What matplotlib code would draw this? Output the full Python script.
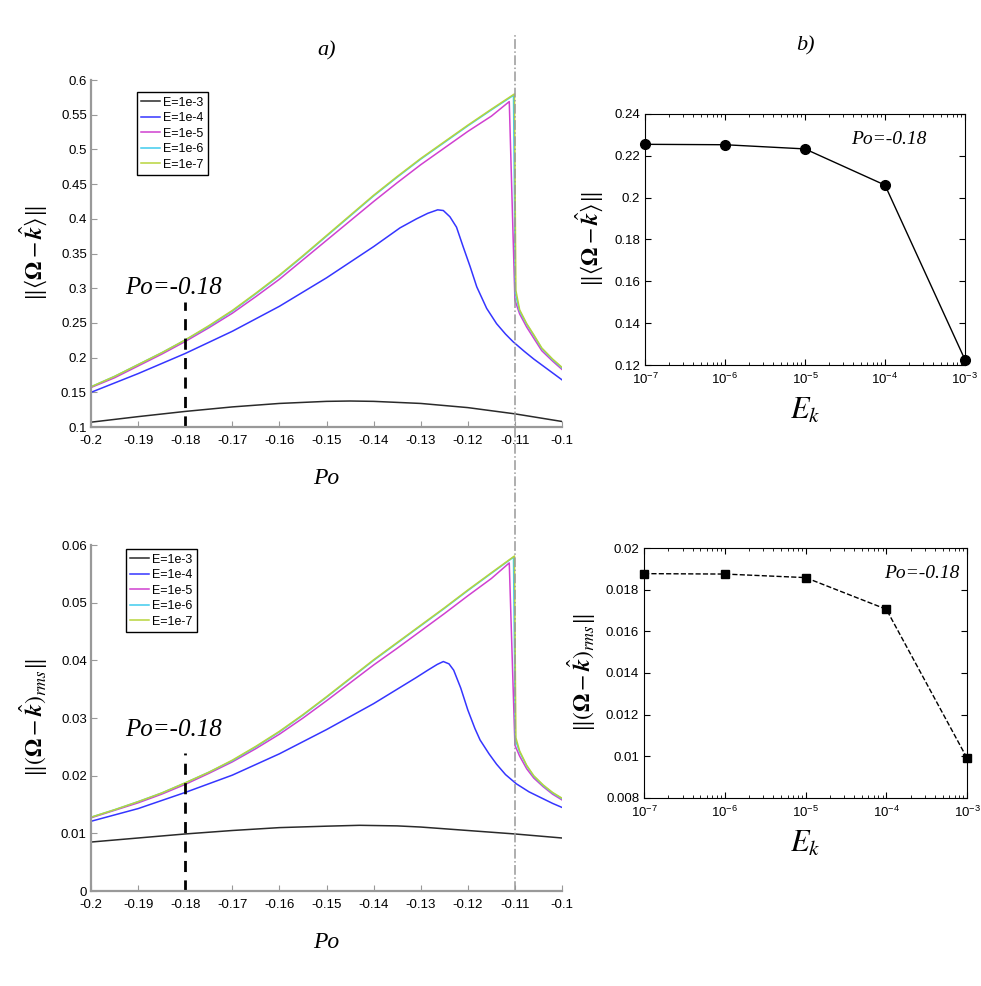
import matplotlib

matplotlib.use("Agg")
import matplotlib.pyplot as plt  # noqa: E402
import numpy as np  # noqa: E402
from matplotlib.lines import Line2D  # noqa: E402

plt.rcParams["font.family"] = ["Liberation Sans", "DejaVu Sans"]
plt.rcParams["mathtext.fontset"] = "stix"

# ---- data: panel a) top, mean deviation vs Po ----
po_e3 = [-0.2, -0.19, -0.18, -0.17, -0.16, -0.15, -0.145, -0.14, -0.13, -0.12, -0.11, -0.1]
top_e3 = [0.107, 0.115, 0.1225, 0.129, 0.134, 0.137, 0.1375, 0.137, 0.134, 0.128, 0.119, 0.108]

po_e4 = [-0.2, -0.19, -0.18, -0.17, -0.16, -0.15, -0.14, -0.1344, -0.1309, -0.1285, -0.1264,
         -0.1252, -0.1238, -0.1224, -0.121, -0.1195, -0.1181, -0.116, -0.1139, -0.112, -0.1104,
         -0.108, -0.106, -0.104, -0.102, -0.1]
top_e4 = [0.150, 0.177, 0.206, 0.238, 0.274, 0.315, 0.360, 0.387, 0.400, 0.408, 0.413,
          0.412, 0.403, 0.388, 0.360, 0.331, 0.302, 0.271, 0.249, 0.234, 0.223,
          0.209, 0.198, 0.188, 0.178, 0.168]

po_e5 = [-0.2, -0.195, -0.19, -0.185, -0.18, -0.175, -0.17, -0.165, -0.16, -0.155, -0.15,
         -0.145, -0.14, -0.135, -0.13, -0.125, -0.12, -0.115, -0.1112, -0.11, -0.109,
         -0.1075, -0.106, -0.1043, -0.102, -0.1]
top_e5 = [0.157, 0.171, 0.188, 0.205, 0.2233, 0.243, 0.264, 0.288, 0.313, 0.341, 0.369,
          0.397, 0.425, 0.452, 0.478, 0.502, 0.526, 0.548, 0.569, 0.283, 0.263,
          0.244, 0.228, 0.210, 0.195, 0.183]

po_e6 = [-0.2, -0.195, -0.19, -0.185, -0.18, -0.175, -0.17, -0.165, -0.16, -0.155, -0.15,
         -0.145, -0.14, -0.135, -0.13, -0.125, -0.12, -0.115, -0.1103, -0.1099, -0.109,
         -0.1075, -0.106, -0.1043, -0.102, -0.1]
top_e6 = [0.158, 0.173, 0.190, 0.207, 0.2253, 0.245, 0.267, 0.292, 0.318, 0.346, 0.375,
          0.404, 0.433, 0.460, 0.486, 0.510, 0.534, 0.557, 0.578, 0.292, 0.267,
          0.248, 0.232, 0.213, 0.197, 0.185]

po_e7 = [-0.2, -0.195, -0.19, -0.185, -0.18, -0.175, -0.17, -0.165, -0.16, -0.155, -0.15,
         -0.145, -0.14, -0.135, -0.13, -0.125, -0.12, -0.115, -0.1101, -0.1098, -0.109,
         -0.1075, -0.106, -0.1043, -0.102, -0.1]
top_e7 = [0.158, 0.173, 0.190, 0.207, 0.2255, 0.246, 0.268, 0.293, 0.319, 0.347, 0.376,
          0.405, 0.434, 0.461, 0.487, 0.511, 0.535, 0.558, 0.580, 0.297, 0.269,
          0.249, 0.233, 0.214, 0.198, 0.186]

# ---- data: panel a) bottom, rms deviation vs Po ----
bot_po_e3 = [-0.2, -0.19, -0.18, -0.17, -0.16, -0.15, -0.143, -0.135, -0.13, -0.12, -0.11, -0.1]
bot_e3 = [0.0085, 0.0092, 0.0099, 0.0105, 0.0110, 0.01125, 0.0114, 0.0113, 0.0111, 0.0105, 0.0099, 0.0092]

bot_po_e4 = [-0.2, -0.19, -0.18, -0.17, -0.16, -0.15, -0.14, -0.135, -0.131, -0.1285, -0.1265,
             -0.1252, -0.124, -0.123, -0.1215, -0.12, -0.1185, -0.1174, -0.1155, -0.1139, -0.112,
             -0.1097, -0.107, -0.104, -0.102, -0.1]
bot_e4 = [0.0121, 0.0143, 0.0171, 0.0201, 0.0238, 0.0280, 0.0325, 0.0350, 0.0370, 0.0383, 0.0393,
          0.0398, 0.0394, 0.0383, 0.0352, 0.0314, 0.0282, 0.0262, 0.0238, 0.0220, 0.0202,
          0.0186, 0.0172, 0.0160, 0.0152, 0.0145]

bot_po_e5 = [-0.2, -0.195, -0.19, -0.185, -0.18, -0.175, -0.17, -0.165, -0.16, -0.155, -0.15,
             -0.145, -0.14, -0.135, -0.13, -0.125, -0.12, -0.115, -0.1112, -0.11, -0.109,
             -0.1075, -0.106, -0.104, -0.102, -0.1]
bot_e5 = [0.0127, 0.0140, 0.0153, 0.0168, 0.0185, 0.0204, 0.0224, 0.0247, 0.0272, 0.0300, 0.0330,
          0.0361, 0.0392, 0.0421, 0.0451, 0.0481, 0.0512, 0.0542, 0.0569, 0.0253, 0.0234,
          0.0212, 0.0196, 0.0181, 0.0168, 0.0158]

bot_po_e6 = [-0.2, -0.195, -0.19, -0.185, -0.18, -0.175, -0.17, -0.165, -0.16, -0.155, -0.15,
             -0.145, -0.14, -0.135, -0.13, -0.125, -0.12, -0.115, -0.1103, -0.1099, -0.109,
             -0.1075, -0.106, -0.104, -0.102, -0.1]
bot_e6 = [0.0128, 0.0141, 0.0155, 0.0170, 0.01875, 0.0206, 0.0226, 0.0250, 0.0276, 0.0305, 0.0336,
          0.0368, 0.0400, 0.0430, 0.0460, 0.0490, 0.0521, 0.0551, 0.0579, 0.0262, 0.0241,
          0.0217, 0.0199, 0.0183, 0.0170, 0.0160]

bot_po_e7 = [-0.2, -0.195, -0.19, -0.185, -0.18, -0.175, -0.17, -0.165, -0.16, -0.155, -0.15,
             -0.145, -0.14, -0.135, -0.13, -0.125, -0.12, -0.115, -0.1101, -0.1098, -0.109,
             -0.1075, -0.106, -0.104, -0.102, -0.1]
bot_e7 = [0.0128, 0.0141, 0.0155, 0.0170, 0.01877, 0.0206, 0.0227, 0.0251, 0.0277, 0.0306, 0.0337,
          0.0369, 0.0401, 0.0431, 0.0461, 0.0491, 0.0522, 0.0552, 0.0581, 0.0266, 0.0243,
          0.0218, 0.0200, 0.0184, 0.0171, 0.0161]

# ---- data: panel b), values at Po=-0.18 vs Ekman number ----
ekman = [1e-7, 1e-6, 1e-5, 1e-4, 1e-3]
mean_at_po = [0.2255, 0.2253, 0.2233, 0.206, 0.1225]
rms_at_po = [0.01877, 0.01875, 0.01858, 0.01706, 0.00991]

labels = ["E=1e-3", "E=1e-4", "E=1e-5", "E=1e-6", "E=1e-7"]
colors = ["#2a2a2a", "#3535ff", "#d040d0", "#40ccee", "#b8d43c"]

PO_MARK = -0.18
PO_CRIT = -0.11
SPINE_GREY = "#999999"

fig = plt.figure(figsize=(9.81, 9.86), dpi=100)
ax_a1 = fig.add_axes([0.0928, 0.5669, 0.4801, 0.3519])
ax_a2 = fig.add_axes([0.0928, 0.0963, 0.4801, 0.3509])
ax_b1 = fig.add_axes([0.6575, 0.6298, 0.3262, 0.2546])
ax_b2 = fig.add_axes([0.6565, 0.1907, 0.3293, 0.2535])


def style_left(ax):
    for side in ("top", "right"):
        ax.spines[side].set_visible(False)
    for side in ("left", "bottom"):
        ax.spines[side].set_color(SPINE_GREY)
        ax.spines[side].set_linewidth(1.6)
    ax.tick_params(direction="in", length=4, color=SPINE_GREY, labelsize=9.5, pad=3)
    ax.tick_params(axis="x", pad=6)
    ax.set_xlim(-0.2, -0.1)
    ax.set_xticks(np.arange(-0.2, -0.0999, 0.01))
    ax.set_xticklabels(["-0.2", "-0.19", "-0.18", "-0.17", "-0.16", "-0.15",
                        "-0.14", "-0.13", "-0.12", "-0.11", "-0.1"])


def style_right(ax):
    ax.set_xscale("log")
    ax.set_xlim(1e-7, 1e-3)
    for side in ax.spines:
        ax.spines[side].set_linewidth(0.8)
    ax.tick_params(which="both", direction="in", top=True, right=True, labelsize=9.5)
    ax.tick_params(which="major", length=4)
    ax.tick_params(which="minor", length=2)
    ax.tick_params(axis="x", pad=5)


top_sets = [(po_e3, top_e3), (po_e4, top_e4), (po_e5, top_e5), (po_e6, top_e6), (po_e7, top_e7)]
bot_sets = [(bot_po_e3, bot_e3), (bot_po_e4, bot_e4), (bot_po_e5, bot_e5),
            (bot_po_e6, bot_e6), (bot_po_e7, bot_e7)]

for ax, sets in ((ax_a1, top_sets), (ax_a2, bot_sets)):
    style_left(ax)
    for (xs, ys), lab, col in zip(sets, labels, colors):
        ax.plot(xs, ys, color=col, linewidth=1.1, label=lab)

legend_kw = dict(loc="upper left", fontsize=9, frameon=True, fancybox=False, edgecolor="black",
                 framealpha=1, handlelength=1.5, labelspacing=0.28, borderpad=0.35,
                 handletextpad=0.25, borderaxespad=0)

# top-left
ax_a1.set_ylim(0.1, 0.6)
ax_a1.set_yticks(np.arange(0.1, 0.6001, 0.05))
ax_a1.set_yticklabels(["0.1", "0.15", "0.2", "0.25", "0.3", "0.35", "0.4",
                       "0.45", "0.5", "0.55", "0.6"])
ax_a1.plot([PO_MARK, PO_MARK], [0.1, 0.28], color="black", linestyle=(0, (4, 3)), linewidth=2)
ax_a1.text(-0.1824, 0.292, "Po=-0.18", ha="center", va="baseline", fontsize=18,
           family="Liberation Serif", style="italic")
ax_a1.set_ylabel(r"$\|\langle \mathbf{\Omega} - \hat{\boldsymbol{k}} \rangle\|$", fontsize=17, labelpad=8)
ax_a1.set_xlabel("Po", fontsize=17, family="Liberation Serif", style="italic", labelpad=15)
ax_a1.legend(bbox_to_anchor=(0.097, 0.965), **legend_kw)
ax_a1.set_title("a)", fontsize=16, family="Liberation Serif", style="italic", pad=18)

# bottom-left
ax_a2.set_ylim(0, 0.06)
ax_a2.set_yticks(np.arange(0, 0.0601, 0.01))
ax_a2.set_yticklabels(["0", "0.01", "0.02", "0.03", "0.04", "0.05", "0.06"])
ax_a2.plot([PO_MARK, PO_MARK], [0, 0.0239], color="black", linestyle=(0, (4, 3)), linewidth=2)
ax_a2.text(-0.1825, 0.0269, "Po=-0.18", ha="center", va="baseline", fontsize=18,
           family="Liberation Serif", style="italic")
ax_a2.set_ylabel(r"$\|(\mathbf{\Omega} - \hat{\boldsymbol{k}})_{rms}\|$", fontsize=17, labelpad=8)
ax_a2.set_xlabel("Po", fontsize=17, family="Liberation Serif", style="italic", labelpad=15)
ax_a2.legend(bbox_to_anchor=(0.074, 0.988), **legend_kw)

# critical Po line spanning both left panels
pos1 = ax_a1.get_position()
pos2 = ax_a2.get_position()
xmin, xmax = ax_a1.get_xlim()
x_fig = pos1.x0 + (PO_CRIT - xmin) / (xmax - xmin) * pos1.width
fig.add_artist(Line2D([x_fig, x_fig], [pos2.y0, 1 - 35 / 986], transform=fig.transFigure,
                      color=SPINE_GREY, linestyle="-.", linewidth=1.1, zorder=5))

# top-right
style_right(ax_b1)
ax_b1.plot(ekman, mean_at_po, color="black", marker="o", markersize=7, linewidth=1, clip_on=False)
ax_b1.set_ylim(0.12, 0.24)
ax_b1.set_yticks(np.arange(0.12, 0.2401, 0.02))
ax_b1.set_yticklabels(["0.12", "0.14", "0.16", "0.18", "0.2", "0.22", "0.24"])
ax_b1.text(0.88, 0.9, "Po=-0.18", transform=ax_b1.transAxes, ha="right", va="center",
           fontsize=14, family="Liberation Serif", style="italic")
ax_b1.set_ylabel(r"$\|\langle \mathbf{\Omega} - \hat{\boldsymbol{k}} \rangle\|$", fontsize=17, labelpad=6)
ax_b1.set_xlabel(r"$E_k$", fontsize=22, labelpad=6)
ax_b1.set_title("b)", fontsize=16, family="Liberation Serif", style="italic", pad=46)

# bottom-right
style_right(ax_b2)
ax_b2.plot(ekman, rms_at_po, color="black", marker="s", markersize=5.5, linewidth=1,
           linestyle="--", clip_on=False)
ax_b2.set_ylim(0.008, 0.02)
ax_b2.set_yticks(np.arange(0.008, 0.02001, 0.002))
ax_b2.set_yticklabels(["0.008", "0.01", "0.012", "0.014", "0.016", "0.018", "0.02"])
ax_b2.text(0.975, 0.9, "Po=-0.18", transform=ax_b2.transAxes, ha="right", va="center",
           fontsize=14, family="Liberation Serif", style="italic")
ax_b2.set_ylabel(r"$\|(\mathbf{\Omega} - \hat{\boldsymbol{k}})_{rms}\|$", fontsize=17, labelpad=6)
ax_b2.set_xlabel(r"$E_k$", fontsize=22, labelpad=6)

fig.savefig("out.png", dpi=100)
plt.close(fig)
